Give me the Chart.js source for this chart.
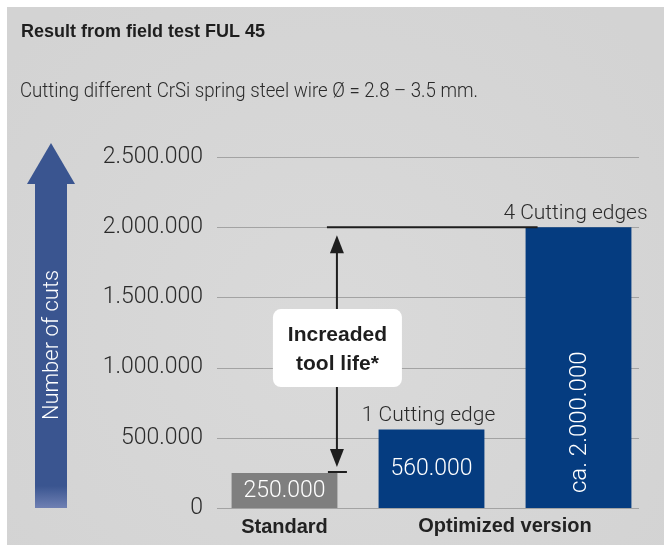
<!DOCTYPE html>
<html>
<head>
<meta charset="utf-8">
<script src="https://cdn.jsdelivr.net/npm/chart.js@4.4.1/dist/chart.umd.min.js"></script>
<style>
    html, body { margin: 0; padding: 0; background: #fff; }
</style>
</head>
<body>
<canvas id="bar" width="664" height="545"></canvas>
<script>
    // data
    var categories = ['Standard', 'Optimized version', 'Optimized version'];
    var cuts = [250000, 560000, 2000000];
    var barColors = ['#7f7f7f', '#053c80', '#053c80'];
    var valueLabels = ['250.000', '560.000', 'ca. 2.000.000'];
    var edgeLabels = ['', '1 Cutting edge', '4 Cutting edges'];
    var groupLabels = ['Standard', 'Optimized version'];
    var yMax = 2500000;
    var yStep = 500000;

    var LIGHT = 'Roboto, "Liberation Sans", sans-serif';
    var BOLD = '"Liberation Sans", Arial, sans-serif';

    function dots(n) {
        return String(n).replace(/\B(?=(\d{3})+(?!\d))/g, '.');
    }

    // squeeze text horizontally to a given width (the original font is narrower)
    function fitText(ctx, text, x, y, width) {
        var w = ctx.measureText(text).width;
        var k = Math.min(1, width / w);
        ctx.save();
        ctx.translate(x, y);
        ctx.scale(k, 1);
        ctx.fillText(text, 0, 0);
        ctx.restore();
    }

    function drawArrowHead(ctx, x, y, dir, half, len) {
        ctx.beginPath();
        ctx.moveTo(x, y);
        ctx.lineTo(x - half, y + dir * len);
        ctx.lineTo(x + half, y + dir * len);
        ctx.closePath();
        ctx.fill();
    }

    var decor = {
        id: 'decor',
        beforeDraw: function (chart) {
            var ctx = chart.ctx;
            ctx.save();
            ctx.fillStyle = '#ffffff';
            ctx.fillRect(0, 0, chart.width, chart.height);
            var g = ctx.createRadialGradient(330, 330, 40, 330, 330, 420);
            g.addColorStop(0, '#d9d9d9');
            g.addColorStop(1, '#d3d3d3');
            ctx.fillStyle = g;
            ctx.fillRect(7, 7, chart.width - 7, chart.height - 7);
            ctx.restore();
        },
        beforeDatasetsDraw: function (chart) {
            var ctx = chart.ctx, y = chart.scales.y, area = chart.chartArea;
            ctx.save();
            ctx.strokeStyle = '#a3a3a3';
            ctx.lineWidth = 1;
            for (var v = 0; v <= yMax; v += yStep) {
                var py = Math.round(y.getPixelForValue(v)) + 0.5;
                ctx.beginPath();
                ctx.moveTo(area.left + 6, py);
                ctx.lineTo(area.right - 13, py);
                ctx.stroke();
            }
            ctx.restore();
        },
        afterDatasetsDraw: function (chart) {
            var ctx = chart.ctx, ys = chart.scales.y;
            var bars = chart.getDatasetMeta(0).data;
            ctx.save();

            // titles
            ctx.fillStyle = '#1e1e1e';
            ctx.textAlign = 'left';
            ctx.textBaseline = 'alphabetic';
            ctx.font = 'bold 18px ' + BOLD;
            fitText(ctx, 'Result from field test FUL 45', 21, 37, 246);
            ctx.fillStyle = '#2a2a2a';
            ctx.font = '300 21px ' + LIGHT;
            fitText(ctx, 'Cutting different CrSi spring steel wire \u00d8 = 2.8 \u2013 3.5 mm.', 20, 97, 458);

            // value labels inside bars
            ctx.fillStyle = '#ffffff';
            ctx.font = '300 23px ' + LIGHT;
            for (var i = 0; i < bars.length; i++) {
                var b = bars[i];
                if (i < 2) {
                    ctx.textAlign = 'center';
                    ctx.textBaseline = 'middle';
                    ctx.fillText(valueLabels[i], b.x, (b.y + b.base) / 2 + 1);
                } else {
                    ctx.save();
                    ctx.translate(b.x + 1, b.base - 15);
                    ctx.rotate(-Math.PI / 2);
                    ctx.textAlign = 'left';
                    ctx.textBaseline = 'middle';
                    ctx.font = '300 24px ' + LIGHT;
                    ctx.fillText(valueLabels[i], 0, 0);
                    ctx.restore();
                }
            }

            // edge labels above bars
            ctx.fillStyle = '#2a2a2a';
            ctx.font = '300 21px ' + LIGHT;
            ctx.textAlign = 'center';
            ctx.textBaseline = 'alphabetic';
            for (i = 0; i < bars.length; i++) {
                if (edgeLabels[i]) ctx.fillText(edgeLabels[i], bars[i].x - 3, bars[i].y - 8);
            }

            // group labels under axis
            ctx.fillStyle = '#222';
            ctx.font = 'bold 20px ' + BOLD;
            ctx.textBaseline = 'middle';
            ctx.fillText(groupLabels[0], bars[0].x, 527);
            ctx.fillText(groupLabels[1], (bars[1].x + bars[2].x) / 2, 526);

            // increased tool life annotation
            var b0 = bars[0], b2 = bars[2];
            var topY = ys.getPixelForValue(cuts[2]);
            var lowY = b0.y;
            var ax = b0.x + b0.width / 2 - 0.5;
            ctx.strokeStyle = '#1e1e1e';
            ctx.fillStyle = '#1e1e1e';
            ctx.lineWidth = 2;
            ctx.beginPath();
            ctx.moveTo(ax - 10, topY);
            ctx.lineTo(b2.x - b2.width / 2 + 12, topY);
            ctx.moveTo(ax - 9, lowY - 1);
            ctx.lineTo(ax + 10, lowY - 1);
            ctx.moveTo(ax, topY + 20);
            ctx.lineTo(ax, lowY - 20);
            ctx.stroke();
            drawArrowHead(ctx, ax, topY + 8, 1, 7, 18);
            drawArrowHead(ctx, ax, lowY - 6, -1, 7, 18);

            var cy = (topY + lowY) / 2 - 2;
            ctx.fillStyle = '#ffffff';
            ctx.beginPath();
            ctx.roundRect(ax - 64, cy - 39, 129, 78, 8);
            ctx.fill();
            ctx.fillStyle = '#1e1e1e';
            ctx.font = 'bold 21px ' + BOLD;
            ctx.textAlign = 'center';
            ctx.textBaseline = 'middle';
            ctx.fillText('Increaded', ax + 0.5, cy - 13);
            ctx.fillText('tool life*', ax + 0.5, cy + 16);

            // axis arrow
            var base = ys.getPixelForValue(0);
            var g = ctx.createLinearGradient(0, base - 22, 0, base);
            g.addColorStop(0, '#3a5590');
            g.addColorStop(1, '#6f80b3');
            ctx.fillStyle = g;
            ctx.fillRect(35, 183, 32, base - 183);
            ctx.fillStyle = '#3a5590';
            ctx.beginPath();
            ctx.moveTo(51, 143);
            ctx.lineTo(75, 184);
            ctx.lineTo(27, 184);
            ctx.closePath();
            ctx.fill();
            ctx.save();
            ctx.translate(52, 345);
            ctx.rotate(-Math.PI / 2);
            ctx.fillStyle = '#ffffff';
            ctx.font = '300 22px ' + LIGHT;
            ctx.textAlign = 'center';
            ctx.textBaseline = 'middle';
            ctx.fillText('Number of cuts', 0, 0);
            ctx.restore();

            ctx.restore();
        }
    };

    function generateChart() {
        var ctx = document.getElementById('bar').getContext('2d');
        new Chart(ctx, {
            type: 'bar',
            data: {
                labels: categories,
                datasets: [{
                    data: cuts,
                    backgroundColor: barColors,
                    borderWidth: 0,
                    categoryPercentage: 1,
                    barPercentage: 0.72
                }]
            },
            options: {
                responsive: false,
                animation: false,
                layout: { padding: { left: 0, right: 12, top: 157, bottom: 37 } },
                plugins: { legend: { display: false }, tooltip: { enabled: false } },
                scales: {
                    x: { display: false },
                    y: {
                        min: 0,
                        max: yMax,
                        afterFit: function (s) { s.width = 211; },
                        grid: { display: false, drawTicks: false },
                        border: { display: false },
                        ticks: {
                            stepSize: yStep,
                            padding: 8,
                            color: '#2a2a2a',
                            font: { family: LIGHT, size: 23, weight: '300' },
                            callback: function (v) { return dots(v); }
                        }
                    }
                }
            },
            plugins: [decor]
        });
    }

    generateChart();
</script>
</body>
</html>
